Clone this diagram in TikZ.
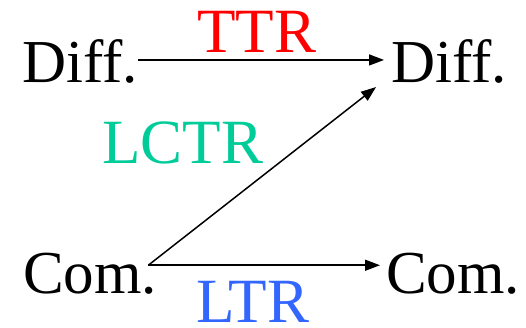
\documentclass[tikz,border=0pt]{standalone}
\usepackage{fontspec}
\setmainfont{Liberation Serif}
\usepackage{tikz}
\usetikzlibrary{arrows.meta}
\definecolor{ttrred}{HTML}{FF0000}
\definecolor{lctrgreen}{HTML}{00CC99}
\definecolor{ltrblue}{HTML}{3366FF}

\begin{document}
\begin{tikzpicture}[x=1pt,y=1pt,
  state/.style={inner sep=0pt,anchor=base west,font=\fontsize{61}{70}\selectfont},
  tag/.style={inner sep=0pt,anchor=base west,font=\fontsize{63}{70}\selectfont},
  arr/.style={-{Triangle[length=15pt,width=11pt]},line width=1.5pt}]
\useasboundingbox (0,0) rectangle (526,327);
% states
\node[state] (dl) at (22,244) {Diff.};
\node[state] (dr) at (391,244) {Diff.};
\node[state] (cl) at (23,34) {Com.};
\node[state] (cr) at (386,34) {Com.};
\coordinate (src) at ([xshift=-9pt,yshift=8pt]cl.east);
\coordinate (dtip) at ([xshift=-15pt,yshift=-3pt]dr.south west);
% transitions
\draw[arr,shorten >=7pt] ([yshift=2pt]dl.east) -- ([yshift=2pt]dr.west);
\draw[arr] (src) -- (dtip);
\draw[arr,shorten >=6pt] (src) -- (src -| cr.west);
% labels
\node[tag,text=ttrred] (ttr) at (197,274) {TTR};
\node[tag,text=lctrgreen] (lctr) at (102,164) {LCTR};
\node[tag,text=ltrblue] (ltr) at (196,5) {LTR};
\end{tikzpicture}
\end{document}
